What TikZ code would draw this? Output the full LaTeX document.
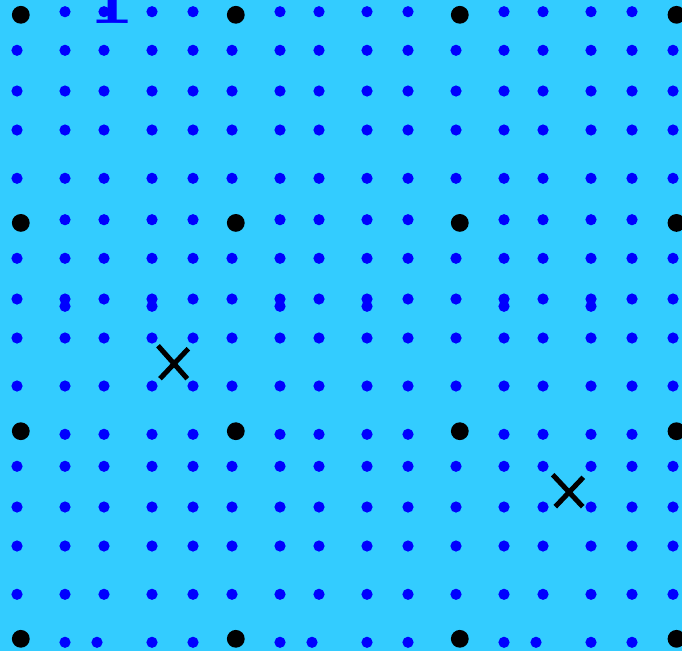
\documentclass[tikz,border=0pt]{standalone}
\definecolor{bgblue}{RGB}{51,204,255}
\definecolor{dotblue}{RGB}{0,0,255}
\tikzset{
  bluedot/.style={fill=dotblue},
  blackdot/.style={fill=black},
  xmark/.style={draw=black, line width=5pt, line cap=butt}
}
\begin{document}
\begin{tikzpicture}[x=1pt,y=-1pt]
\useasboundingbox (0,0) rectangle (682,651);
\fill[bgblue] (0,0) rectangle (682,651);
% full rows
\foreach \yy in {50.3,91,130,178.3,258.3,299,338,386,466.3,507,546,594.3}{
  \foreach \xx in {17,65,104,152,193,232,280,319,367,408,456,504,543,591,632,673}{
    \fill[bluedot] (\xx,\yy) circle (5.6);
  }
}
% rows with black dots
\foreach \yy in {11.7,219.7,434.3}{
  \foreach \xx in {65,104,152,193,280,319,367,408,504,543,591,632}{
    \fill[bluedot] (\xx,\yy) circle (5.6);
  }
}
% extra dots
\foreach \xx in {65,152,280,367,504,591}{
  \fill[bluedot] (\xx,306.3) circle (5.6);
}
% last row
\foreach \xx in {65,97,152,193,280,312,367,408,504,536,591,632}{
  \fill[bluedot] (\xx,642.3) circle (5.6);
}
% black dots
\foreach \xx in {20.8,235.8,459.8,676.5}{
  \foreach \yy in {14.8,222.9,431.2,638.8}{
    \fill[blackdot] (\xx,\yy) circle (8.9);
  }
}
% X marks
\coordinate (xa1) at (158,345.7);
\coordinate (xa2) at (187.3,378.7);
\coordinate (xb1) at (188.3,348.7);
\coordinate (xb2) at (160,378.7);
\draw[xmark] (xa1) -- (xa2);
\draw[xmark] (xb1) -- (xb2);
\coordinate (ya1) at (552.7,474.7);
\coordinate (ya2) at (582.7,506.7);
\coordinate (yb1) at (583.3,477.3);
\coordinate (yb2) at (555.3,506.7);
\draw[xmark] (ya1) -- (ya2);
\draw[xmark] (yb1) -- (yb2);
% the digit
\node[text=dotblue, anchor=base, inner sep=0pt, font=\fontsize{80}{80}\selectfont\bfseries] (one) at (112.5,23.3) {1};
\end{tikzpicture}
\end{document}
